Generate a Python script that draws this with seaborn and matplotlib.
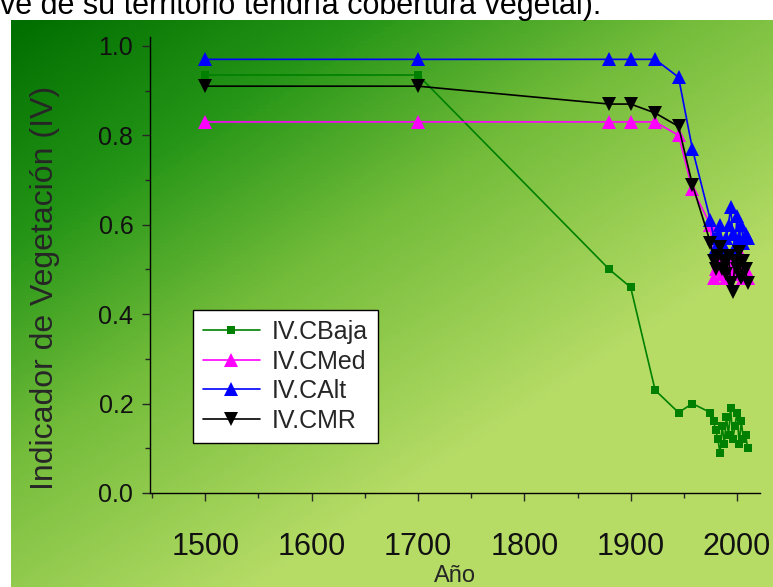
import numpy as np
import pandas as pd
import matplotlib
matplotlib.use("Agg")
import matplotlib.pyplot as plt
from matplotlib.colors import LinearSegmentedColormap
import seaborn as sns

sns.set_theme(style="ticks")
plt.rcParams['font.family'] = ['Liberation Sans', 'DejaVu Sans']

# ---------------- data ----------------
cluster_years = [1975, 1978, 1980, 1982, 1984, 1986, 1988, 1990, 1992,
                 1994, 1996, 1998, 2000, 2002, 2004, 2006, 2008, 2010]
early_years = [1500, 1700, 1880, 1900, 1923, 1945, 1958]
years = early_years + cluster_years

cbaja_early = [0.935, 0.935, 0.50, 0.46, 0.23, 0.18, 0.20]
cbaja_cluster = [0.18, 0.16, 0.14, 0.12, 0.09, 0.15, 0.11, 0.17, 0.13,
                 0.19, 0.12, 0.15, 0.18, 0.11, 0.16, 0.12, 0.13, 0.10]
cmed_early = [0.83, 0.83, 0.83, 0.83, 0.83, 0.80, 0.68]
cmed_cluster = [0.60, 0.48, 0.50, 0.52, 0.55, 0.49, 0.51, 0.48, 0.52,
                0.50, 0.53, 0.49, 0.55, 0.50, 0.52, 0.48, 0.50, 0.48]
calt_early = [0.97, 0.97, 0.97, 0.97, 0.97, 0.93, 0.77]
calt_cluster = [0.61, 0.57, 0.55, 0.58, 0.60, 0.56, 0.55, 0.57, 0.60,
                0.64, 0.58, 0.55, 0.62, 0.57, 0.60, 0.56, 0.58, 0.57]
cmr_early = [0.91, 0.91, 0.87, 0.87, 0.85, 0.82, 0.69]
cmr_cluster = [0.56, 0.52, 0.50, 0.53, 0.55, 0.50, 0.52, 0.49, 0.53,
               0.47, 0.45, 0.52, 0.50, 0.54, 0.48, 0.52, 0.50, 0.47]

series_names = ["IV.CBaja", "IV.CMed", "IV.CAlt", "IV.CMR"]
series_values = [cbaja_early + cbaja_cluster, cmed_early + cmed_cluster,
                 calt_early + calt_cluster, cmr_early + cmr_cluster]
x_ticks = [1500, 1600, 1700, 1800, 1900, 2000]
y_ticks = [0.0, 0.2, 0.4, 0.6, 0.8, 1.0]

colors = ["#008000", "#ff00ff", "#0000ff", "#000000"]
markers = ["s", "^", "^", "v"]
msizes = [6, 10, 10, 10]

# ---------------- figure ----------------
W, H = 773, 587
fig = plt.figure(figsize=(W / 100, H / 100), dpi=100)
fig.patch.set_facecolor("white")

# green gradient background
bg = fig.add_axes([11 / W, 0 / H, 1 - 11 / W, (H - 20) / H], zorder=0)
nx, ny = 200, 160
gx = np.linspace(0, 1, nx)[None, :]
gy = np.linspace(0, 1, ny)[:, None]  # 0 top, 1 bottom
t = np.clip(0.68 * gx + 0.78 * gy, 0, 1)
cmap = LinearSegmentedColormap.from_list(
    "g", [(0.0, (0 / 255, 110 / 255, 0 / 255)),
          (0.3, (35 / 255, 148 / 255, 22 / 255)),
          (0.6, (115 / 255, 188 / 255, 58 / 255)),
          (1.0, (182 / 255, 220 / 255, 102 / 255))])
bg.imshow(t, cmap=cmap, aspect="auto", extent=[0, 1, 0, 1], vmin=0, vmax=1)
bg.axis("off")

# heading text at top (clipped in the reference)
fig.text(0.0, 1 - 14 / H, "ve de su territorio tendría cobertura vegetal).",
         fontsize=22, color="black", ha="left", va="baseline")

ax = fig.add_axes([150 / W, 94 / H, 610 / W, 456 / H], zorder=1)
ax.patch.set_alpha(0)

for name, vals, c, m, ms in zip(series_names, series_values, colors, markers, msizes):
    df = pd.DataFrame({"Año": years, "IV": vals})
    sns.lineplot(data=df, x="Año", y="IV", ax=ax, color=c, marker=m,
                 markersize=ms, markeredgewidth=0, linewidth=1.2,
                 sort=False, label=name)

ax.set_xlim(1448, 2021.6)
ax.set_ylim(0, 1.02)
ax.set_xticks(x_ticks)
ax.set_xticks([1450, 1550, 1650, 1750, 1850, 1950], minor=True)
ax.set_yticks(y_ticks)
ax.set_yticks([0.1, 0.3, 0.5, 0.7, 0.9], minor=True)
ax.set_yticklabels([f"{v:.1f}" for v in y_ticks])
ax.tick_params(axis="x", which="major", labelsize=22, length=6, width=1, direction="out", pad=22)
ax.tick_params(axis="y", which="major", labelsize=18, length=6, width=1, direction="out", pad=6)
ax.tick_params(which="minor", length=3.5, width=1, direction="out")
for lab in ax.get_xticklabels() + ax.get_yticklabels():
    lab.set_color("#111111")

sns.despine(ax=ax, top=True, right=True)
for s in ["left", "bottom"]:
    ax.spines[s].set_color("black")
    ax.spines[s].set_linewidth(1.0)

ax.set_xlabel("Año", fontsize=17)
ax.xaxis.set_label_coords((455 - 150) / 610, (493 - 576) / 456)
ax.xaxis.label.set_va("center")
ax.set_ylabel("Indicador de Vegetación (IV)", fontsize=23)
ax.yaxis.set_label_coords((45 - 150) / 610, (493 - 288) / 456)
ax.yaxis.label.set_va("center")

leg = ax.legend(loc="upper left", bbox_to_anchor=(0.07, 0.401), borderaxespad=0,
                fontsize=18, frameon=True, fancybox=False, handlelength=2.3,
                handletextpad=0.45, labelspacing=0.22, borderpad=0.4, numpoints=1)
leg.get_frame().set_edgecolor("black")
leg.get_frame().set_facecolor("white")
leg.get_frame().set_alpha(1)
leg.get_frame().set_linewidth(1.0)

fig.savefig("out.png", dpi=100)
